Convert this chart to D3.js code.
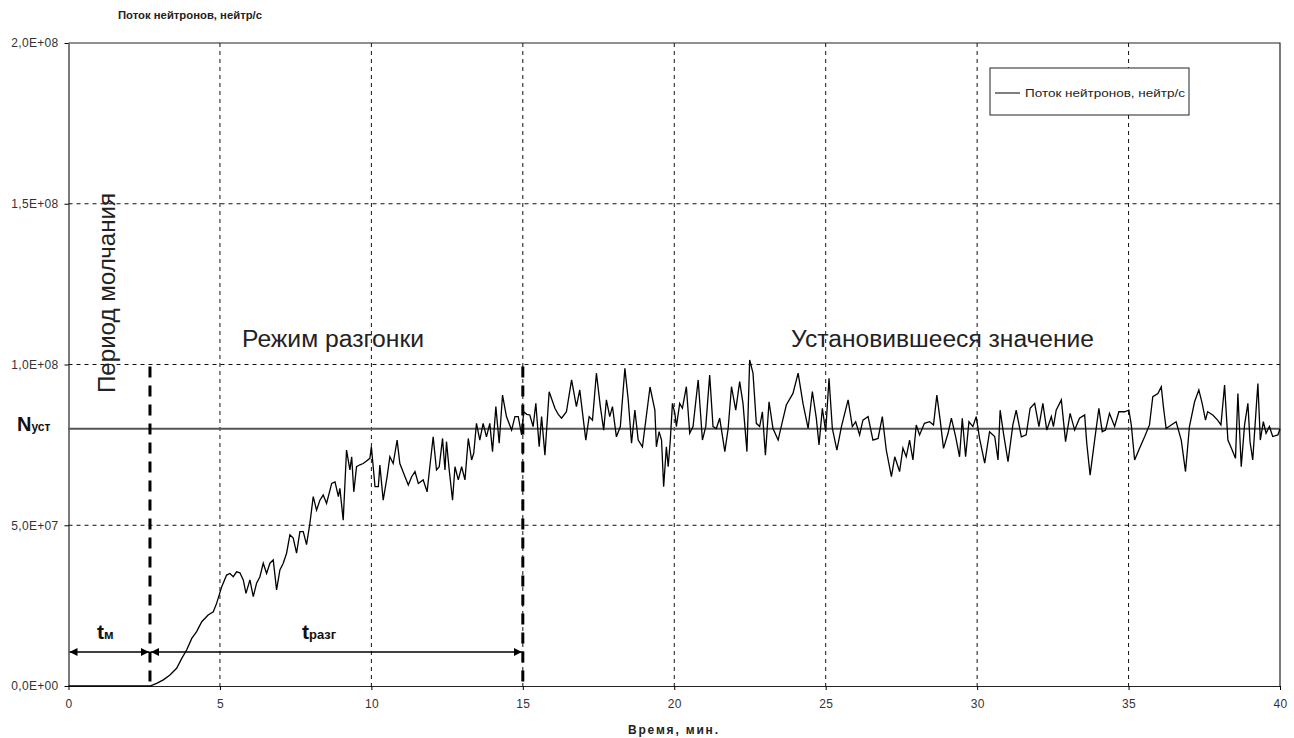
<!DOCTYPE html>
<html>
<head>
<meta charset="utf-8">
<script src="https://cdn.jsdelivr.net/npm/d3@7"></script>
<style>
  body { margin: 0; background: #fff; }
  svg text { font-family: Arial, "Liberation Sans", sans-serif; }
</style>
</head>
<body>
<div id="chart"></div>
<script>
// flux values are given in units of 1e7 neutrons/s
const UNIT = 1e7;
const times = [0, 2.69, 2.91, 3.13, 3.35, 3.57, 3.74, 3.90, 4.07, 4.23, 4.40, 4.61, 4.78, 4.89, 5.06, 5.22, 5.33, 5.44, 5.55, 5.66,
  5.77, 5.86, 5.99, 6.10, 6.21, 6.32, 6.43, 6.54, 6.65, 6.76, 6.87, 6.98, 7.09, 7.20, 7.31, 7.42, 7.53, 7.64, 7.75, 7.86,
  7.97, 8.08, 8.19, 8.30, 8.41, 8.52, 8.69, 8.80, 8.91, 8.96, 9.07, 9.18, 9.29, 9.35, 9.42, 9.51, 9.62, 9.73, 9.84, 9.95,
  10.0, 10.12, 10.23, 10.28, 10.39, 10.52, 10.61, 10.72, 10.85, 10.94, 11.11, 11.22, 11.33, 11.44, 11.55, 11.71, 11.84, 11.93, 12.04, 12.15,
  12.24, 12.35, 12.43, 12.48, 12.57, 12.68, 12.76, 12.87, 12.98, 13.09, 13.20, 13.31, 13.38, 13.47, 13.58, 13.69, 13.80, 13.91, 14.0, 14.11,
  14.22, 14.33, 14.46, 14.63, 14.74, 14.85, 14.96, 15.03, 15.13, 15.23, 15.34, 15.43, 15.54, 15.62, 15.73, 15.87, 16.06, 16.17, 16.28, 16.44,
  16.61, 16.77, 16.88, 17.08, 17.19, 17.30, 17.43, 17.56, 17.67, 17.76, 17.87, 17.96, 18.09, 18.22, 18.37, 18.48, 18.59, 18.70, 18.81, 18.95,
  19.20, 19.36, 19.41, 19.50, 19.58, 19.65, 19.74, 19.80, 19.87, 19.94, 20.02, 20.07, 20.18, 20.27, 20.40, 20.51, 20.62, 20.79, 20.93, 21.04,
  21.17, 21.28, 21.39, 21.50, 21.67, 21.78, 21.89, 22.03, 22.16, 22.27, 22.40, 22.49, 22.60, 22.71, 22.82, 22.91, 23.01, 23.13, 23.26, 23.43,
  23.57, 23.70, 23.92, 24.09, 24.25, 24.42, 24.56, 24.69, 24.78, 24.89, 25.0, 25.11, 25.22, 25.37, 25.52, 25.74, 25.88, 25.99, 26.12, 26.23,
  26.40, 26.56, 26.73, 26.87, 27.0, 27.17, 27.28, 27.44, 27.55, 27.66, 27.77, 27.88, 27.99, 28.10, 28.26, 28.43, 28.56, 28.67, 28.78, 28.89,
  29.04, 29.15, 29.29, 29.42, 29.51, 29.62, 29.73, 29.86, 29.97, 30.08, 30.25, 30.41, 30.58, 30.69, 30.76, 30.87, 31.02, 31.18, 31.29, 31.46,
  31.62, 31.75, 31.90, 32.04, 32.17, 32.30, 32.45, 32.52, 32.61, 32.78, 32.92, 33.07, 33.22, 33.38, 33.55, 33.62, 33.73, 33.88, 34.02, 34.13,
  34.24, 34.37, 34.54, 34.68, 34.87, 35.01, 35.09, 35.20, 35.36, 35.53, 35.69, 35.80, 35.97, 36.08, 36.15, 36.24, 36.41, 36.57, 36.74, 36.88,
  37.01, 37.18, 37.32, 37.43, 37.54, 37.61, 37.78, 37.94, 38.05, 38.17, 38.28, 38.42, 38.53, 38.61, 38.72, 38.83, 38.94, 39.01, 39.10, 39.21,
  39.27, 39.35, 39.45, 39.54, 39.65, 39.76, 39.93, 40.0];
const flux = [0, 0, 0.08, 0.19, 0.34, 0.55, 0.86, 1.12, 1.48, 1.69, 2.0, 2.21, 2.31, 2.57, 3.09, 3.45, 3.5, 3.4, 3.55, 3.52,
  3.3, 2.88, 3.3, 2.78, 3.2, 3.4, 3.82, 3.5, 3.82, 3.92, 2.99, 3.61, 3.82, 4.13, 4.7, 4.6, 4.13, 4.8, 4.8, 4.4,
  5.06, 5.89, 5.47, 5.78, 5.94, 5.68, 6.30, 6.35, 5.89, 6.15, 5.16, 7.34, 6.72, 7.13, 6.04, 6.82, 6.88, 6.92, 7.0, 7.08,
  7.44, 6.20, 6.20, 6.87, 5.78, 6.51, 7.13, 6.92, 7.65, 6.92, 6.51, 6.25, 6.51, 6.67, 6.30, 6.41, 6.04, 6.82, 7.75, 6.72,
  6.82, 7.70, 6.72, 7.60, 6.72, 5.78, 6.82, 6.41, 6.82, 6.41, 7.70, 7.03, 7.24, 8.17, 7.65, 8.17, 7.75, 8.17, 7.29, 8.69,
  7.55, 9.05, 8.38, 7.96, 8.38, 8.38, 7.81, 8.53, 8.45, 8.43, 8.07, 8.79, 7.44, 8.38, 7.18, 9.15, 8.64, 8.45, 8.33, 8.53,
  9.52, 8.69, 9.21, 7.65, 8.38, 8.27, 9.73, 8.69, 7.96, 8.90, 8.38, 8.69, 7.75, 8.07, 9.88, 8.90, 7.55, 8.58, 7.65, 7.44,
  9.30, 8.58, 7.44, 7.91, 7.65, 6.20, 7.44, 6.82, 7.65, 8.79, 8.48, 8.07, 8.79, 8.64, 9.31, 7.86, 8.07, 9.52, 7.65, 8.07,
  9.67, 8.07, 8.01, 8.33, 7.29, 8.01, 9.31, 8.58, 9.47, 8.79, 7.29, 10.14, 9.73, 8.17, 8.07, 8.53, 7.18, 8.84, 8.01, 7.65,
  8.22, 8.74, 9.10, 9.73, 8.79, 8.01, 9.16, 8.33, 7.5, 8.64, 7.91, 9.57, 8.01, 7.34, 8.07, 8.9, 8.07, 8.22, 7.81, 8.27,
  8.38, 7.65, 7.70, 8.38, 7.34, 6.51, 7.13, 6.67, 7.4, 7.13, 7.65, 7.03, 8.12, 7.81, 8.17, 8.22, 8.12, 9.05, 8.27, 7.39,
  7.86, 8.33, 7.76, 7.13, 8.33, 7.13, 8.22, 8.07, 8.38, 7.70, 6.93, 7.91, 7.76, 7.03, 8.58, 7.86, 6.98, 8.12, 8.58, 7.75,
  7.81, 8.64, 8.79, 8.07, 8.79, 7.96, 8.38, 8.07, 8.58, 8.9, 7.6, 8.48, 7.96, 8.33, 8.43, 7.55, 6.56, 7.65, 8.64, 7.91,
  7.96, 8.48, 8.07, 8.53, 8.53, 8.58, 8.12, 7.03, 7.39, 7.75, 8.12, 9.0, 9.10, 9.31, 8.69, 8.01, 8.12, 8.22, 7.65, 6.67,
  8.07, 8.84, 9.21, 8.79, 8.27, 8.53, 8.43, 8.27, 8.12, 9.36, 7.65, 7.34, 7.08, 9.10, 6.82, 8.12, 8.79, 7.6, 7.03, 8.58,
  9.41, 7.65, 8.22, 7.86, 8.07, 7.76, 7.81, 8.0];

const nSteady = 8.0;      // N_уст, 1e7 units
const tSilence = 2.69;    // end of the silent period, min
const tRamp = 15;         // end of the ramp-up, min

const xTicks = [0, 5, 10, 15, 20, 25, 30, 35, 40];
const yTicks = [0, 5e7, 1e8, 1.5e8, 2e8];
const yTickLabels = ["0,0E+00", "5,0E+07", "1,0E+08", "1,5E+08", "2,0E+08"];

const width = 1294;
const height = 738;

const svg = d3.select("#chart")
    .append("svg")
        .attr("width", width)
        .attr("height", height);

const x = d3.scaleLinear().domain([0, 40]).range([68.5, 1280]);
const y = d3.scaleLinear().domain([0, 2e8]).range([686, 43]);

// grid
svg.append("g")
    .selectAll("line")
    .data(xTicks.slice(1, -1))
    .enter()
    .append("line")
        .attr("x1", d => x(d)).attr("x2", d => x(d))
        .attr("y1", y(2e8)).attr("y2", y(0))
        .attr("stroke", "#111")
        .attr("stroke-dasharray", "4,4");

svg.append("g")
    .selectAll("line")
    .data(yTicks.slice(1, -1))
    .enter()
    .append("line")
        .attr("x1", x(0)).attr("x2", x(40))
        .attr("y1", d => y(d)).attr("y2", d => y(d))
        .attr("stroke", "#111")
        .attr("stroke-dasharray", "4,4");

// frame top / right
svg.append("path")
    .attr("d", `M${x(0)},${y(2e8)}H${x(40)}V${y(0)}`)
    .attr("fill", "none")
    .attr("stroke", "#222")
    .attr("stroke-width", 1.2);

// axes
const yAxis = svg.append("g")
    .attr("transform", `translate(${x(0)},0)`)
    .call(d3.axisLeft(y).tickValues(yTicks).tickFormat((d, i) => yTickLabels[i]).tickSize(4).tickSizeOuter(0).tickPadding(6));

const xAxis = svg.append("g")
    .attr("transform", `translate(0,${y(0)})`)
    .call(d3.axisBottom(x).tickValues(xTicks).tickSize(4).tickSizeOuter(0).tickPadding(9));

[xAxis, yAxis].forEach(function(a) {
    a.selectAll("text")
        .style("font-size", "12px")
        .style("letter-spacing", "0.3px")
        .attr("fill", "#333");
    a.select(".domain").attr("stroke", "#222").attr("stroke-width", 1.2);
});

svg.append("text")
    .attr("x", 118).attr("y", 19)
    .attr("textLength", 144)
    .attr("lengthAdjust", "spacingAndGlyphs")
    .style("font-size", "11px").style("font-weight", "bold")
    .attr("fill", "#222")
    .text("Поток нейтронов, нейтр/с");

svg.append("text")
    .attr("x", 628).attr("y", 734)
    .attr("textLength", 90)
    .style("font-size", "12px").style("font-weight", "bold")
    .attr("fill", "#222")
    .text("Время, мин.");

// steady value line
svg.append("line")
    .attr("x1", x(0)).attr("x2", x(40))
    .attr("y1", y(nSteady * UNIT)).attr("y2", y(nSteady * UNIT))
    .attr("stroke", "#555")
    .attr("stroke-width", 2);

// data
const line = d3.line()
    .x((d, i) => x(times[i]))
    .y(d => y(d * UNIT));

svg.append("path")
    .datum(flux)
    .attr("d", line)
    .attr("fill", "none")
    .attr("stroke", "#000")
    .attr("stroke-width", 1.3);

// thick dashed markers
svg.append("g")
    .selectAll("line")
    .data([tSilence, tRamp])
    .enter()
    .append("line")
        .attr("x1", d => x(d)).attr("x2", d => x(d))
        .attr("y1", y(1e8) + 2).attr("y2", y(0))
        .attr("stroke", "#000")
        .attr("stroke-width", 3)
        .attr("stroke-dasharray", "11,8");

// arrows
const defs = svg.append("defs");
defs.append("marker")
    .attr("id", "arr")
    .attr("viewBox", "0 0 10 10")
    .attr("refX", 10).attr("refY", 5)
    .attr("markerWidth", 8).attr("markerHeight", 8)
    .attr("markerUnits", "userSpaceOnUse")
    .attr("orient", "auto-start-reverse")
    .append("path")
        .attr("d", "M0,0L10,5L0,10z")
        .attr("fill", "#000");

const arrowY = 652;
[[0, tSilence], [tSilence, tRamp]].forEach(function(seg) {
    svg.append("line")
        .attr("x1", x(seg[0]) + 1).attr("x2", x(seg[1]) - 1)
        .attr("y1", arrowY).attr("y2", arrowY)
        .attr("stroke", "#000")
        .attr("stroke-width", 1.5)
        .attr("marker-start", "url(#arr)")
        .attr("marker-end", "url(#arr)");
});

function subLabel(px, py, main, sub, size) {
    const t = svg.append("text")
        .attr("x", px).attr("y", py)
        .style("font-weight", "bold")
        .attr("fill", "#111");
    t.append("tspan").style("font-size", size + "px").text(main);
    t.append("tspan").style("font-size", Math.round(size * 0.62) + "px").text(sub);
}
subLabel(97, 639, "t", "м", 21);
subLabel(302, 639, "t", "разг", 21);
subLabel(17, 431, "N", "уст", 20);

// region captions
svg.append("text")
    .attr("transform", `translate(115,393) rotate(-90)`)
    .attr("textLength", 200)
    .attr("lengthAdjust", "spacingAndGlyphs")
    .style("font-size", "23px")
    .attr("fill", "#222")
    .text("Период молчания");

svg.append("text")
    .attr("x", 242).attr("y", 347)
    .attr("textLength", 182)
    .attr("lengthAdjust", "spacingAndGlyphs")
    .style("font-size", "23px")
    .attr("fill", "#222")
    .text("Режим разгонки");

svg.append("text")
    .attr("x", 791).attr("y", 347)
    .attr("textLength", 303)
    .attr("lengthAdjust", "spacingAndGlyphs")
    .style("font-size", "23px")
    .attr("fill", "#222")
    .text("Установившееся значение");

// legend
const legend = svg.append("g");
legend.append("rect")
    .attr("x", 990).attr("y", 68)
    .attr("width", 199).attr("height", 47)
    .attr("fill", "#fff")
    .attr("stroke", "#222");
legend.append("line")
    .attr("x1", 995).attr("x2", 1020)
    .attr("y1", 93).attr("y2", 93)
    .attr("stroke", "#000");
legend.append("text")
    .attr("x", 1025).attr("y", 97)
    .attr("textLength", 160)
    .attr("lengthAdjust", "spacingAndGlyphs")
    .style("font-size", "11px")
    .attr("fill", "#222")
    .text("Поток нейтронов, нейтр/с");
</script>
</body>
</html>
